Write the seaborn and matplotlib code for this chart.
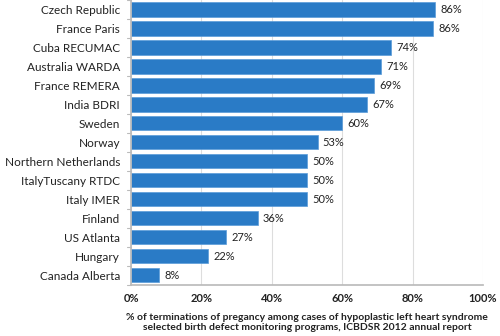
import matplotlib
matplotlib.use("Agg")
import matplotlib.pyplot as plt
import seaborn as sns
import pandas as pd

categories = ["Czech Republic", "France Paris", "Cuba RECUMAC", "Australia WARDA",
              "France REMERA", "India BDRI", "Sweden", "Norway", "Northern Netherlands",
              "ItalyTuscany RTDC", "Italy IMER", "Finland", "US Atlanta", "Hungary",
              "Canada Alberta"]
values = [86.4, 85.8, 74, 71, 69, 67, 60, 53, 50, 50, 50, 36, 27, 22, 8]
labels = ["86%", "86%", "74%", "71%", "69%", "67%", "60%", "53%", "50%", "50%",
          "50%", "36%", "27%", "22%", "8%"]
xticks = [0, 20, 40, 60, 80, 100]
xticklabels = ["0%", "20%", "40%", "60%", "80%", "100%"]

sns.set_theme(style="white")
plt.rcParams['font.family'] = ['Lato', 'DejaVu Sans']

df = pd.DataFrame({"cat": categories, "val": values})
fig = plt.figure(figsize=(5, 3.36), dpi=100)
ax = fig.add_axes([0.262, 0.152, 0.704, 0.848])
sns.barplot(data=df, y="cat", x="val", orient="h", color="#2A7BC6",
            saturation=1, width=0.74, ax=ax, edgecolor="#5A9BD8", linewidth=0.5)
ax.set_xlim(0, 100)
ax.set_ylim(14.5, -0.5)
ax.set_xticks(xticks)
ax.set_xticklabels(xticklabels, fontsize=8, fontweight="bold", color="#222222")
ax.tick_params(axis="y", labelsize=8.5, colors="#222222", pad=8)
ax.tick_params(axis="x", pad=6, length=0)
for v, lab, i in zip(values, labels, range(len(values))):
    ax.text(v + 1.5, i, lab, va="center", ha="left", fontsize=8, color="#222222")
ax.grid(axis="x", color="#DDDDDD", linewidth=0.8)
ax.set_axisbelow(True)
for s in ["top", "right"]:
    ax.spines[s].set_visible(False)
ax.spines["bottom"].set_color("#BBBBBB")
ax.spines["left"].set_color("#BBBBBB")
ax.set_ylabel("")
ax.set_xlabel("% of terminations of pregancy among cases of hypoplastic left heart syndrome\n"
              "selected birth defect monitoring programs, ICBDSR 2012 annual report",
              fontsize=7.5, fontweight="bold", color="#222222", labelpad=6)
# tick marks between categories on left spine
ax.set_yticks(range(len(categories)))
for b in [i + 0.5 for i in range(-1, len(categories))]:
    ax.plot([-0.012, 0], [b, b], transform=ax.get_yaxis_transform(), color="#BBBBBB",
            linewidth=0.8, clip_on=False)
ax.tick_params(axis="y", length=0)
fig.savefig("out.png", dpi=100)
